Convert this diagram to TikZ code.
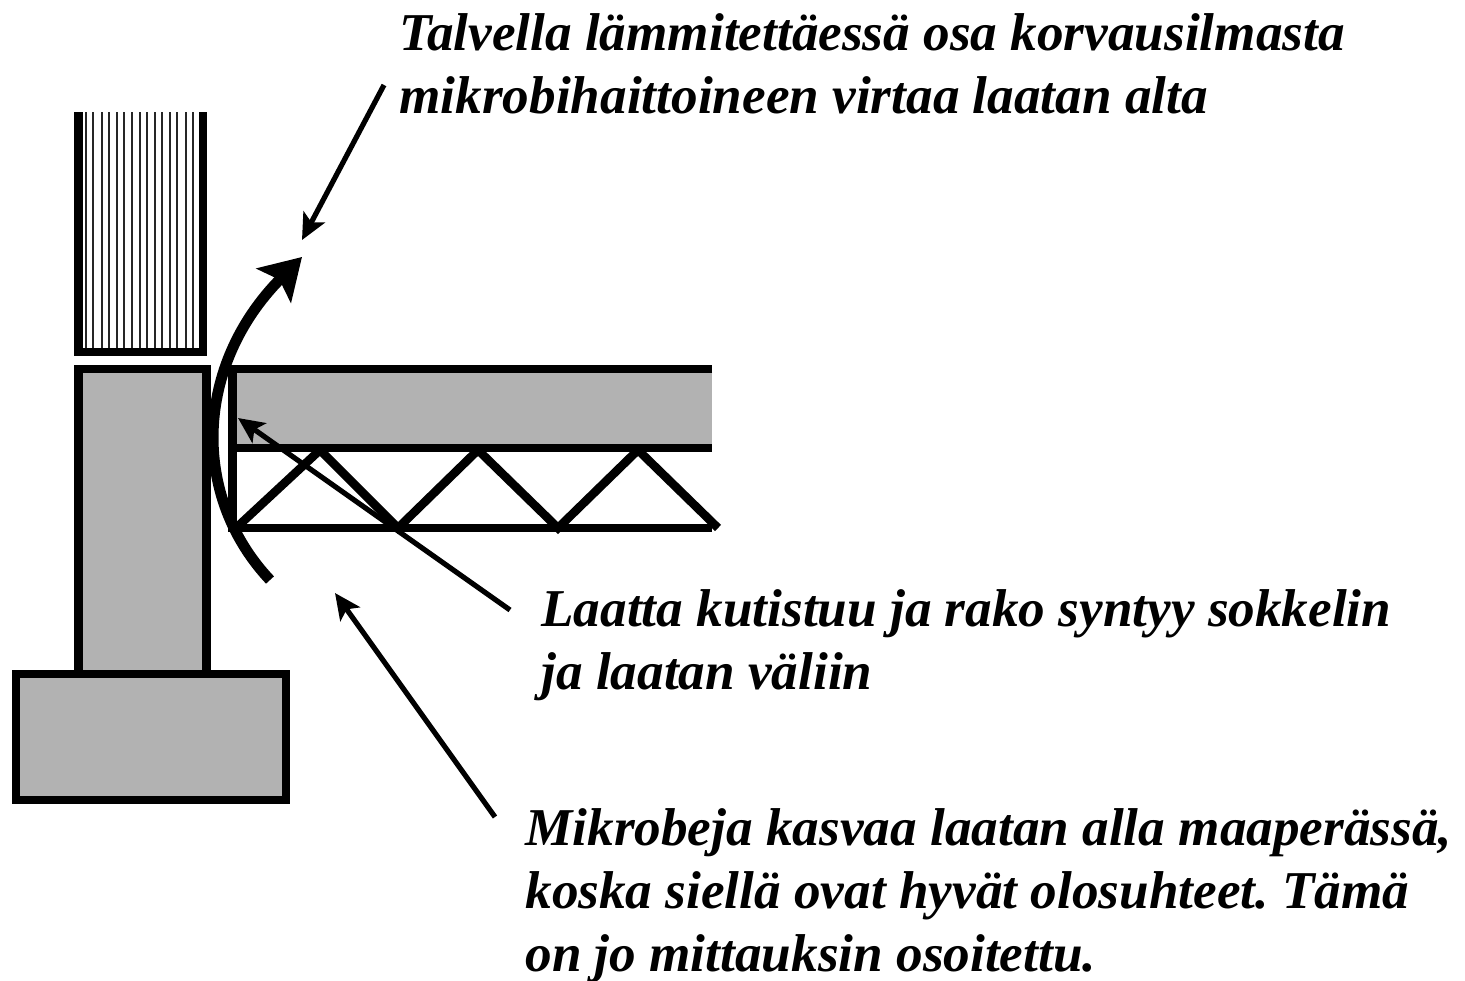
\documentclass[tikz,border=0pt]{standalone}
\usepackage{fontspec}
\setmainfont{Liberation Serif}
\usetikzlibrary{arrows.meta}
\definecolor{fillgray}{HTML}{B2B2B2}
\tikzset{
    thick line/.style={black, line width=4.3pt},
    stripe line/.style={black!85, line width=1pt},
    pointer/.style={black, line width=2.6pt, -{Stealth[length=13pt, width=12pt, inset=3pt]}},
    flow/.style={black, line width=5.4pt, -{Stealth[length=20pt, width=24pt, inset=4pt]}},
    caption/.style={anchor=north west, inner sep=0pt, align=left, font=\fontsize{26.6}{31.5}\selectfont\bfseries\itshape\frenchspacing}
}
\begin{document}
\begin{tikzpicture}[x=0.5pt, y=-0.5pt]
    \useasboundingbox (0,0) rectangle (1465,980);

    % footing and plinth
    \filldraw[thick line, fill=fillgray] (78.5,674) -- (78.5,369) -- (206.5,369) -- (206.5,674);
    \filldraw[thick line, fill=fillgray] (16,674) rectangle (286,800);

    % wall
    \foreach \x in {86,93.3,101.7,109,116.7,124,132.3,140,147.3,155,162.3,170,177.3,185.7,193.3}
        \draw[stripe line] (\x,112) -- (\x,350);
    \draw[thick line] (78.5,112) -- (78.5,352) -- (203,352) -- (203,112);

    % slab
    \fill[fillgray] (232.5,369) rectangle (712,448);
    \draw[thick line] (712,369) -- (232.5,369) -- (232.5,528) -- (712,528);
    \draw[thick line] (232.5,448) -- (712,448);
    \draw[thick line] (236,528) -- (320,450) -- (398,528) -- (478,450) -- (558,528) -- (638,450) -- (718,528);

    % air flow
    \coordinate (flowstart) at (270,580);
    \coordinate (flowend) at (302,257);
    \draw[flow] (flowstart) .. controls (190,495) and (195,365) .. (flowend);

    % captions
    \node[caption] (wintertext) at (399,13) {Talvella lämmitettäessä osa korvausilmasta\\mikrobihaittoineen virtaa laatan alta};
    \node[caption] (gaptext) at (541,589) {Laatta kutistuu ja rako syntyy sokkelin\\ja laatan väliin};
    \node[caption] (soiltext) at (525,808) {Mikrobeja kasvaa laatan alla maaperässä,\\koska siellä ovat hyvät olosuhteet. Tämä\\on jo mittauksin osoitettu.};

    % pointers
    \coordinate (winterfrom) at (384,85);
    \coordinate (winterto) at (302,240);
    \coordinate (gapfrom) at (510,610);
    \coordinate (gapto) at (238,418);
    \coordinate (soilfrom) at (495,817);
    \coordinate (soilto) at (335,593);
    \draw[pointer] (winterfrom) -- (winterto);
    \draw[pointer] (gapfrom) -- (gapto);
    \draw[pointer] (soilfrom) -- (soilto);
\end{tikzpicture}
\end{document}
